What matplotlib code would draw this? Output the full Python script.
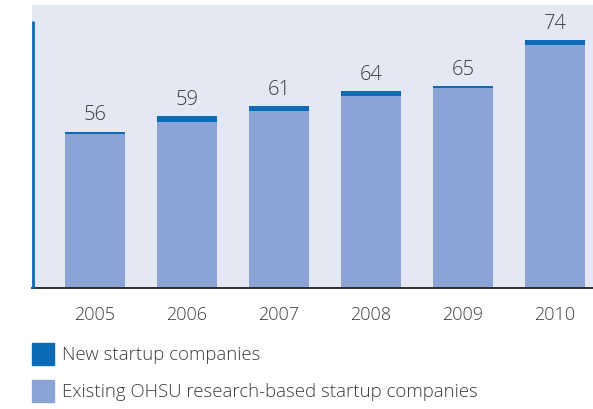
import matplotlib
matplotlib.use("Agg")
import matplotlib.pyplot as plt
from matplotlib.patches import Rectangle
import numpy as np

years = ["2005", "2006", "2007", "2008", "2009", "2010"]
totals = [56, 59, 61, 64, 65, 74]
new_startups = [0.4, 1.0, 0.9, 1.0, 0.4, 1.0]
existing = [t - n for t, n in zip(totals, new_startups)]
legend_labels = ["New startup companies", "Existing OHSU research-based startup companies"]

c_new = "#0A6BB7"
c_exist = "#8CA4D5"
c_bg = "#E4E8F4"
c_text = "#3C3C3C"

W, H = 593, 409
fig = plt.figure(figsize=(W / 100, H / 100), dpi=100)
plt.rcParams['font.family'] = ['Open Sans', 'DejaVu Sans']
FW = "light"

left, right, top, bottom = 32, 593, 5, 288
ax = fig.add_axes([left / W, 1 - bottom / H, (right - left) / W, (bottom - top) / H])
ax.set_facecolor(c_bg)

x = np.arange(len(years))
bw = 60 / 92
ax.bar(x, existing, bw, color=c_exist, bottom=0, zorder=2)
ax.bar(x, new_startups, bw, bottom=existing, color=c_new, zorder=2)

y0 = 25.24
scale = 5.08  # px per unit
ax.set_ylim(y0, y0 + (bottom - top) / scale)
ax.set_xlim(-63 / 92, 5 + 38 / 92)

for xi, t in zip(x, totals):
    ax.annotate(str(t), (xi, t), xytext=(0, 4.5), textcoords="offset points",
                ha="center", va="bottom", fontsize=14.5, color=c_text, fontweight=FW)

for s in ax.spines.values():
    s.set_visible(False)
ax.set_yticks([])
ax.set_xticks(x)
ax.set_xticklabels(years, fontsize=13, color=c_text, fontweight=FW)
ax.tick_params(axis="x", length=0, pad=13)

# baseline and left accent line
ax.plot([0, 1], [0, 0], transform=ax.transAxes, color="#222222", lw=1.3, clip_on=False, zorder=5)
ax.plot([0.002, 0.002], [0, (bottom - 21) / (bottom - top)], transform=ax.transAxes,
        color=c_new, lw=2.0, clip_on=False, zorder=5, solid_capstyle="butt")

# legend drawn manually
for i, (lab, col) in enumerate(zip(legend_labels, [c_new, c_exist])):
    ytop = 343 + i * 37
    fig.add_artist(Rectangle((32 / W, 1 - (ytop + 22) / H), 22 / W, 22 / H,
                             transform=fig.transFigure, color=col))
    fig.text(62 / W, 1 - (ytop + 12) / H, lab, fontsize=13.45, color=c_text,
             ha="left", va="center", fontweight=FW)

fig.savefig("out.png", dpi=100)
